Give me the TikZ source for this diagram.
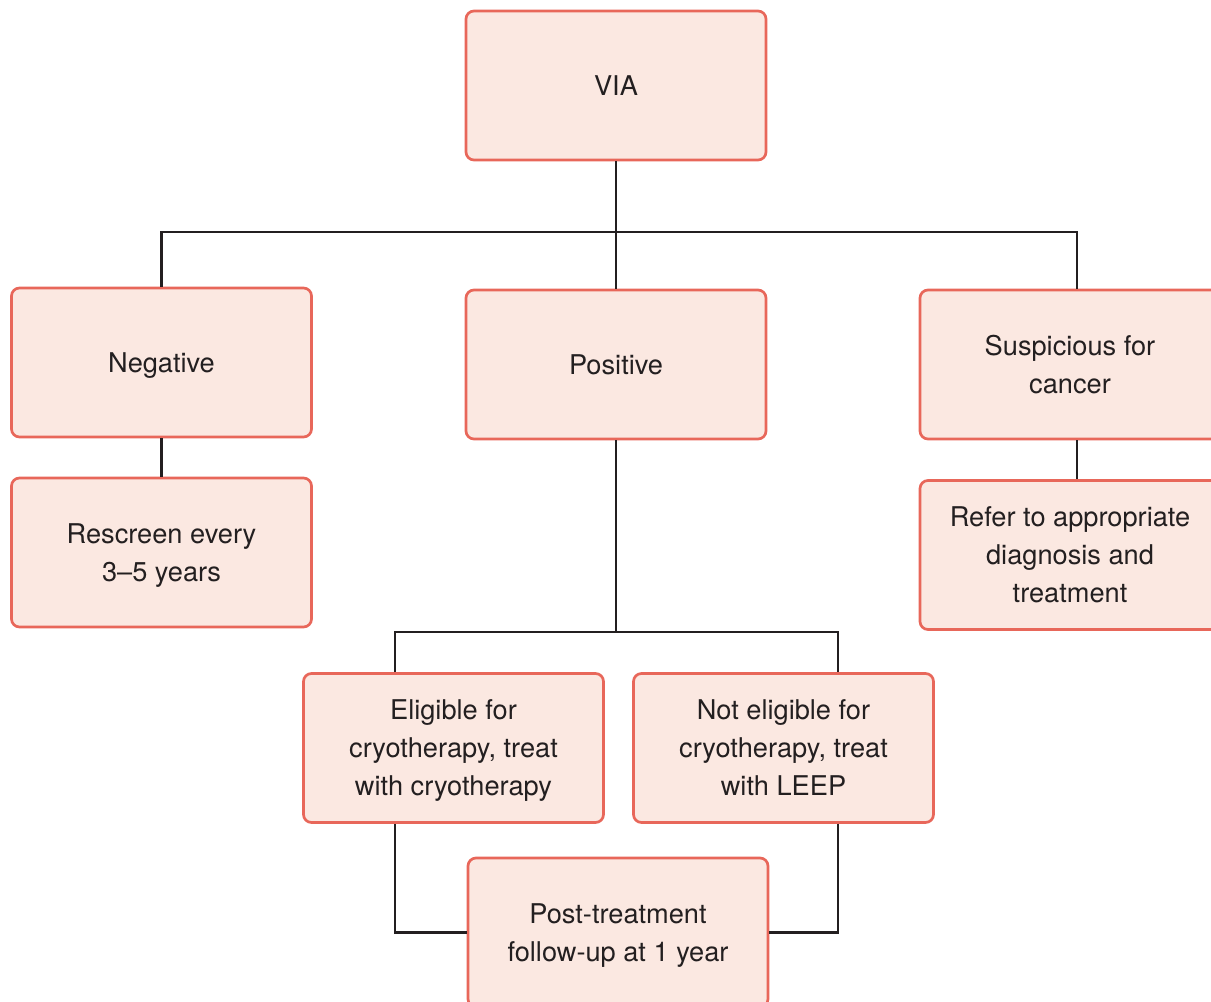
\documentclass[tikz,border=0pt]{standalone}
\usepackage{fontspec}
\setmainfont{TeX Gyre Heros}
\usetikzlibrary{positioning}
\definecolor{boxfill}{HTML}{FBE8E1}
\definecolor{boxline}{HTML}{E8675A}
\definecolor{ink}{HTML}{231F20}

\begin{document}
\begin{tikzpicture}[x=0.75pt,y=-0.75pt,
	box/.style={rectangle, rounded corners=6pt, draw=boxline, fill=boxfill, line width=2pt, minimum width=225pt, minimum height=111.75pt, inner sep=0pt, align=center, text=ink, text depth=0pt, font=\fontsize{20.4}{28.5}\selectfont},
	link/.style={draw=ink, line width=1.8pt}]
	\useasboundingbox (0,0) rectangle (1211,1002);
	
	%Nodes
	\node[box]	(via)	at (616,85.5)	{VIA};
	\node[box]	(neg)	at (161.5,362.5)	{Negative};
	\node[box]	(pos)	at (616,364.5)	{Positive};
	\node[box]	(susp)	at (1070,364.5)	{Suspicious for\\cancer};
	\node[box]	(rescreen)	at (161.5,552.5)	{Rescreen every\\3--5 years};
	\node[box]	(refer)	at (1070,555)	{Refer to appropriate\\diagnosis and\\treatment};
	\node[box]	(elig)	at (453.5,748)	{Eligible for\\cryotherapy, treat\\with cryotherapy};
	\node[box]	(noelig)	at (783.5,748)	{Not eligible for\\cryotherapy, treat\\with LEEP};
	\node[box]	(post)	at (618,932.5)	{Post-treatment\\follow-up at 1 year};
	
	%Branch points
	\coordinate	(fork)	at (616,232);
	\coordinate	(rfork)	at (1077,232);
	\coordinate	(split)	at (616,632);
	\coordinate	(lsplit)	at (395,632);
	\coordinate	(rsplit)	at (838,632);
	
	%Lines
	\draw[link] (via.south) -- (fork);
	\draw[link] (neg.north) |- (rfork) -- (rfork |- susp.north);
	\draw[link] (fork) -- (pos.north);
	\draw[link] (neg.south) -- (rescreen.north);
	\draw[link] (rfork |- susp.south) -- (rfork |- refer.north);
	\draw[link] (pos.south) -- (split);
	\draw[link] (lsplit |- elig.north) -- (lsplit) -- (rsplit) -- (rsplit |- noelig.north);
	\draw[link] (lsplit |- elig.south) |- (post.west);
	\draw[link] (rsplit |- noelig.south) |- (post.east);
\end{tikzpicture}
\end{document}
